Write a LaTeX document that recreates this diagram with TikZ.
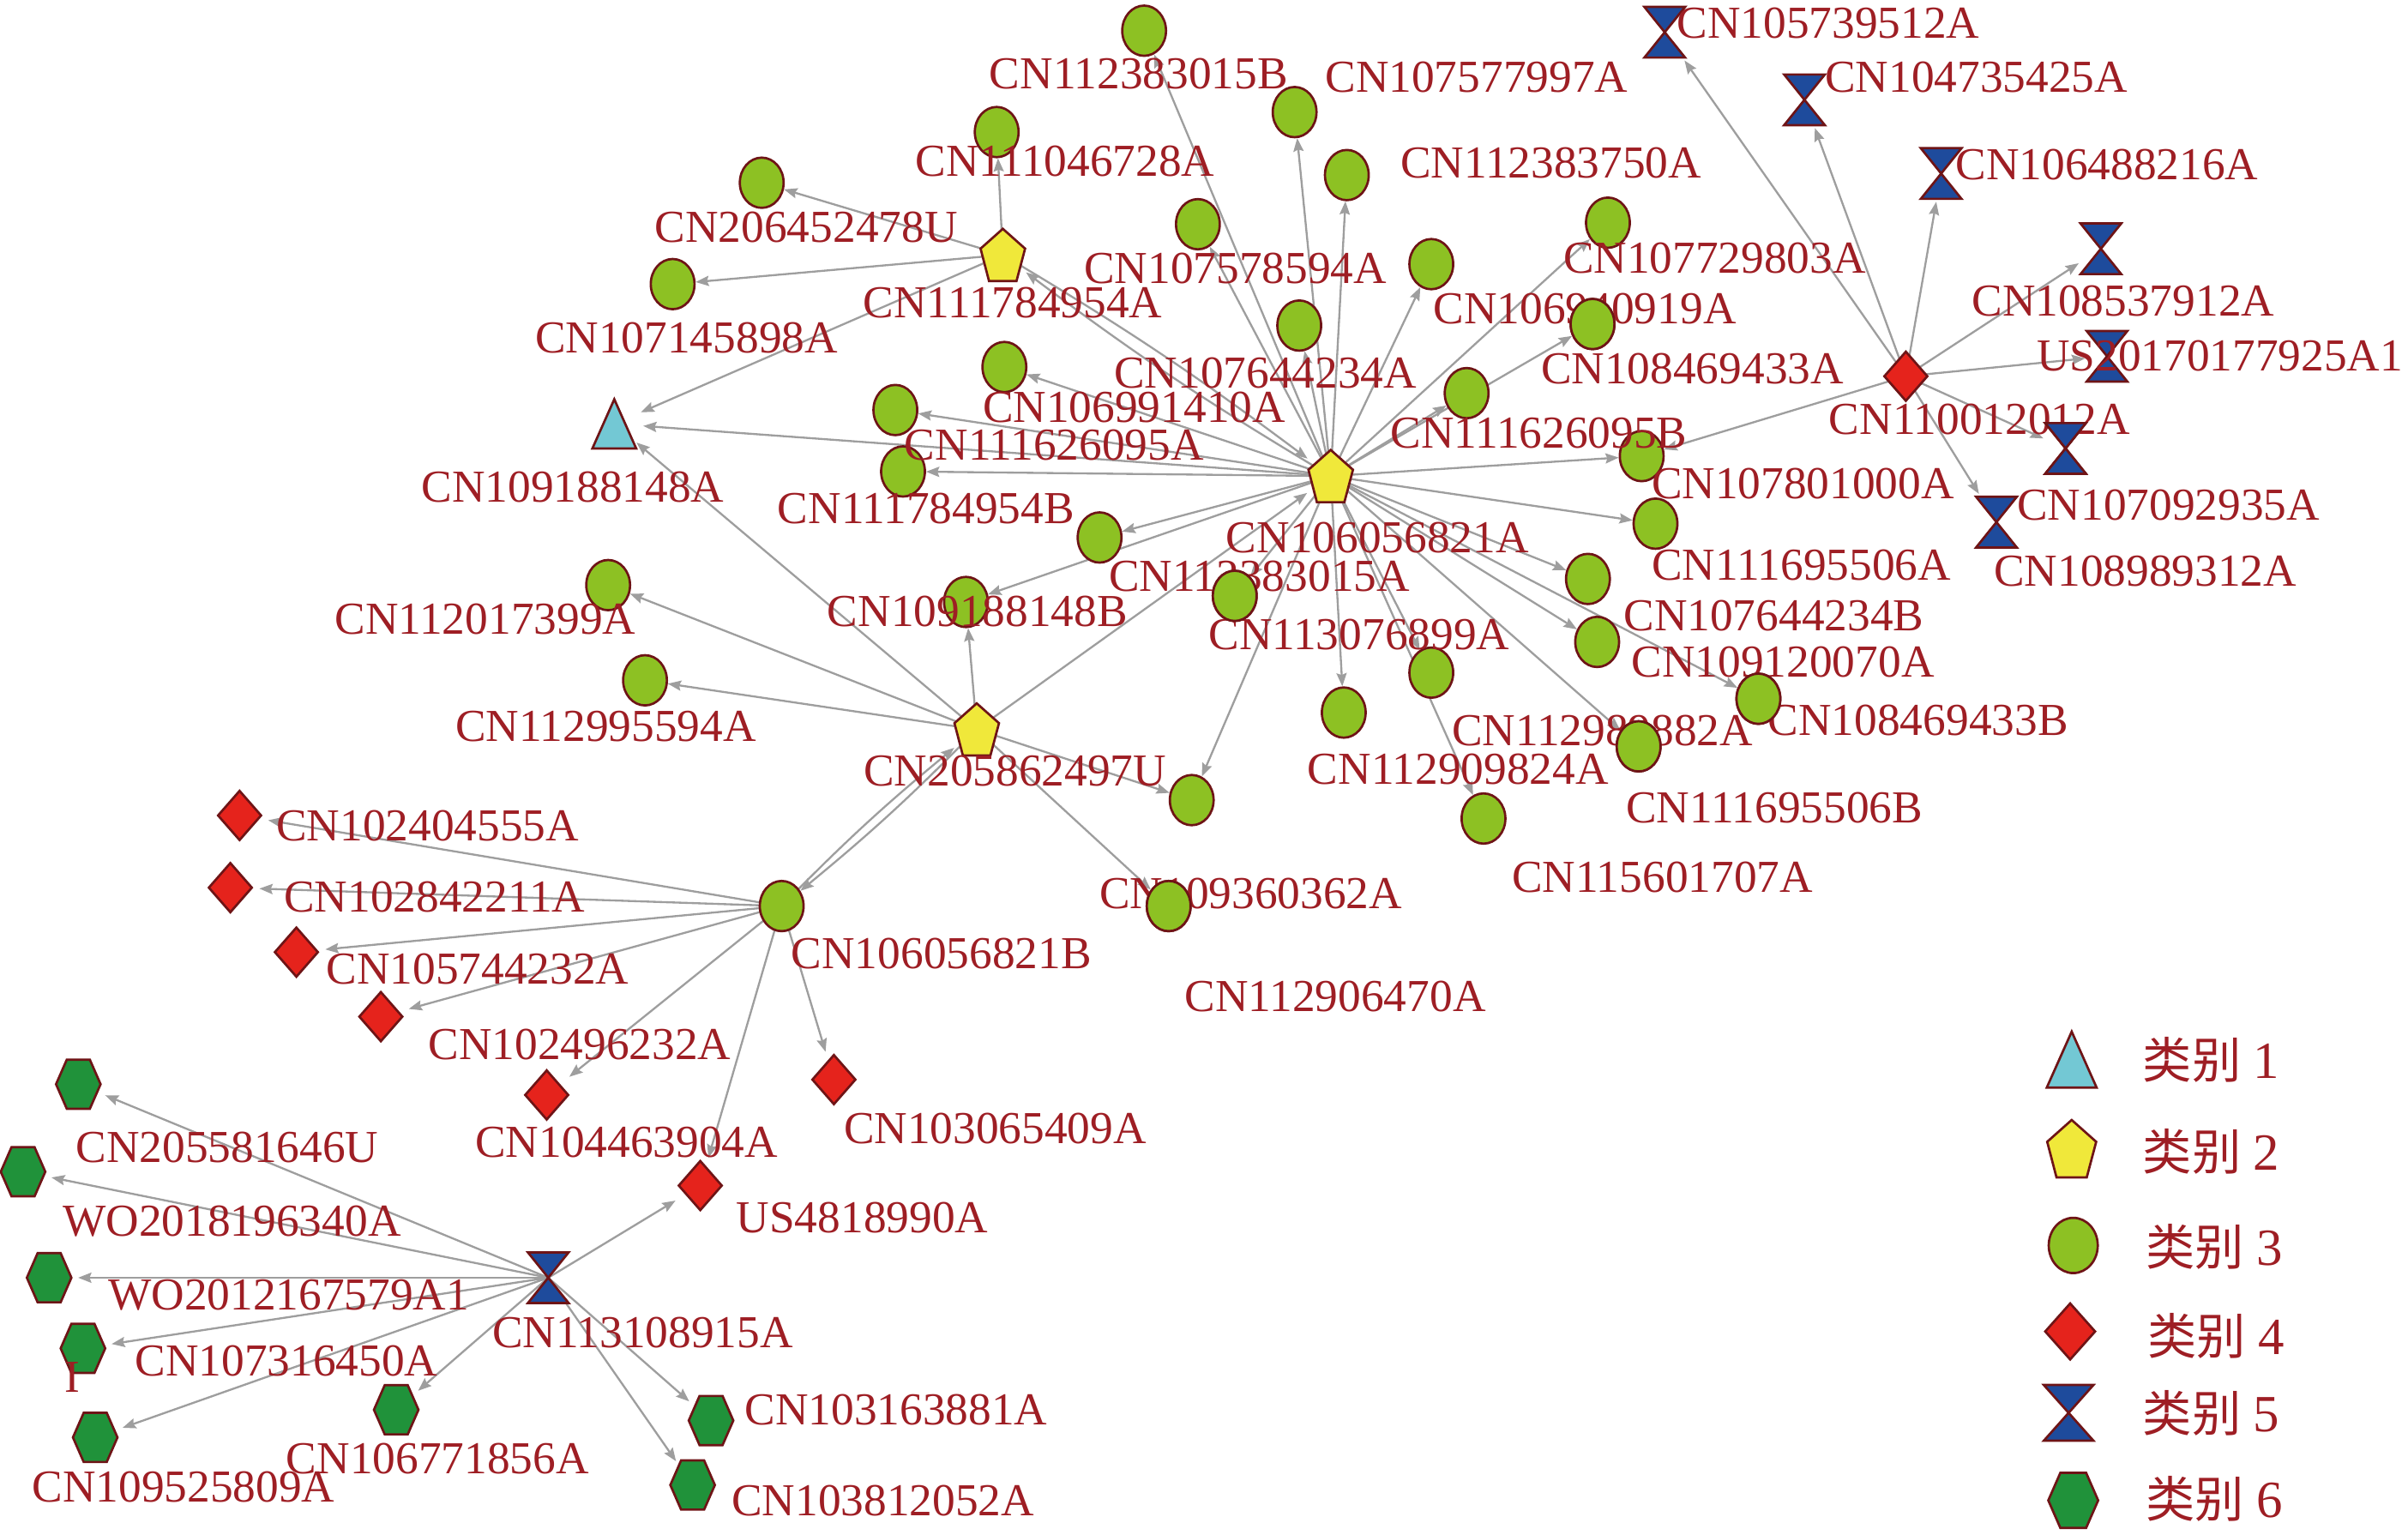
\documentclass[tikz,border=0pt]{standalone}
\usepackage{fontspec}
\setmainfont{Liberation Serif}
\newfontfamily\cjkfont{Noto Sans CJK SC}
\usetikzlibrary{shapes.geometric,arrows.meta,backgrounds}
\definecolor{labred}{RGB}{158,30,36}
\definecolor{outl}{RGB}{110,20,22}
\definecolor{cgreen}{RGB}{141,193,35}
\definecolor{cyel}{RGB}{240,232,58}
\definecolor{ccyan}{RGB}{115,200,212}
\definecolor{cred}{RGB}{229,35,28}
\definecolor{cblue}{RGB}{30,75,156}
\definecolor{cdgreen}{RGB}{32,146,58}
\definecolor{edgegray}{RGB}{158,158,158}
\tikzset{
  nodeline/.style={draw=outl, line width=0.75pt, line join=miter},
  gnode/.style={ellipse, nodeline, fill=cgreen, inner sep=0pt, minimum width=14.25pt, minimum height=16.35pt},
  anc/.style={circle, inner sep=0pt, minimum size=18.5pt},
  ancb/.style={rectangle, inner sep=0pt, minimum width=14pt, minimum height=18pt},
  edge/.style={draw=edgegray, line width=0.65pt, -{Stealth[length=4.3pt,width=3.3pt,inset=0.6pt]}},
  lab/.style={inner sep=0pt, text=labred, font=\fontsize{14.9pt}{16pt}\selectfont},
  legtext/.style={inner sep=0pt, anchor=base west, text=labred},
  pics/pentsh/.style={code={\path[nodeline,fill=cyel] (0,-17) -- (14.5,-4.1) -- (8.9,17) -- (-9,17) -- (-14.5,-4.1) -- cycle;}},
  pics/trish/.style={code={\path[nodeline,fill=ccyan] (0,-16) -- (14.25,16) -- (-14.25,16) -- cycle;}},
  pics/diash/.style={code={\path[nodeline,fill=cred] (0,-16) -- (14,0) -- (0,16) -- (-14,0) -- cycle;}},
  pics/hexsh/.style={code={\path[nodeline,fill=cdgreen] (-14.5,0) -- (-7.5,-16) -- (7.5,-16) -- (14.5,0) -- (7.5,16) -- (-7.5,16) -- cycle;}},
  pics/bowsh/.style={code={\path[nodeline,fill=cblue] (-13.25,-16.5) -- (13.25,-16.5) -- (0,0) -- (13.25,16.5) -- (-13.25,16.5) -- (0,0) -- cycle;}},
  pics/ellsh/.style={code={\path[nodeline,fill=cgreen] (0,0) ellipse [x radius=14.25, y radius=16.35];}},
}
\newcommand\GNode[3]{\node[gnode] (#1) at (#2,#3) {};}
\newcommand\PNode[3]{\node[anc] (#1) at (#2,#3) {}; \pic at (#2,#3) {pentsh};}
\newcommand\TNode[3]{\node[anc] (#1) at (#2,#3) {}; \pic at (#2,#3) {trish};}
\newcommand\DNode[3]{\node[anc] (#1) at (#2,#3) {}; \pic at (#2,#3) {diash};}
\newcommand\HNode[3]{\node[anc] (#1) at (#2,#3) {}; \pic at (#2,#3) {hexsh};}
\newcommand\BNode[3]{\node[ancb] (#1) at (#2,#3) {}; \pic at (#2,#3) {bowsh};}
\newcommand\Lbl[4]{\node[lab] (#1) at (#2,#3) {#4};}
\begin{document}
\begin{tikzpicture}[x=0.5pt,y=-0.5pt]
\useasboundingbox (0,0) rectangle (1568,999.5);
% ---------- green circles ----------
\GNode{c1}{745}{20}
\GNode{c2}{649}{86}
\GNode{c3}{843}{73}
\GNode{c4}{496}{119}
\GNode{c5}{877}{114}
\GNode{c6}{780}{146}
\GNode{c7}{1047}{145}
\GNode{c8}{438}{185}
\GNode{c9}{932}{172}
\GNode{c10}{846}{212}
\GNode{c11}{1037}{211}
\GNode{c12}{654}{239}
\GNode{c13}{955}{256}
\GNode{c14}{583}{267}
\GNode{c15}{588}{307}
\GNode{c16}{1069}{297}
\GNode{c17}{1078}{341}
\GNode{c18}{716}{350}
\GNode{c19}{804}{388}
\GNode{c20}{1034}{377}
\GNode{c21}{629}{392}
\GNode{c22}{396}{381}
\GNode{c23}{1040}{418}
\GNode{c24}{932}{438}
\GNode{c25}{420}{443}
\GNode{c26}{875}{464}
\GNode{c27}{1145}{455}
\GNode{c28}{1067}{486}
\GNode{c29}{776}{521}
\GNode{c30}{966}{533}
\GNode{c31}{761}{590}
\GNode{hubB}{509}{590}
% ---------- pentagons, triangle ----------
\PNode{pA}{866.5}{310}
\PNode{pB}{653}{166}
\PNode{pC}{636}{475}
\TNode{t1}{400}{276}
% ---------- diamonds ----------
\DNode{dH}{1241}{245}
\DNode{d1}{156}{531}
\DNode{d2}{150}{578}
\DNode{d3}{193}{620}
\DNode{d4}{248}{662}
\DNode{d5}{356}{713}
\DNode{d6}{543}{703}
\DNode{d7}{456}{772}
% ---------- bowties ----------
\BNode{b1}{1084}{21}
\BNode{b2}{1175}{65}
\BNode{b3}{1264}{113}
\BNode{b4}{1368}{162}
\BNode{b5}{1372}{232}
\BNode{b6}{1345}{292}
\BNode{b7}{1300}{340}
\BNode{bH}{357}{832}
% ---------- hexagons ----------
\HNode{h1}{51}{706}
\HNode{h2}{15}{763}
\HNode{h3}{32}{832}
\HNode{h4}{54}{878}
\HNode{h5}{258}{918}
\HNode{h6}{62}{936}
\HNode{h7}{463}{925}
\HNode{h8}{451}{967}
% ---------- edges ----------
\begin{scope}[on background layer]
\foreach \t in {c1,c3,c5,c6,c10,c9,c7,c11,c13,c16,c17,c20,c23,c27,c28,c24,c30,c26,c29,c19,c21,c18,c15,c14,c12,t1}
  \draw[edge] (pA.center) -- (\t);
\draw[edge] (pA.center) to[bend left=3] (pB);
\draw[edge] (pB.center) to[bend left=3] (pA);
\foreach \t in {c2,c4,c8,t1}
  \draw[edge] (pB.center) -- (\t);
\foreach \t in {pA,t1,c22,c25,c21,c29,c31}
  \draw[edge] (pC.center) -- (\t);
\draw[edge] (pC.center) to[bend left=3] (hubB);
\draw[edge] (hubB.center) to[bend left=3] (pC);
\foreach \t in {d1,d2,d3,d4,d5,d6,d7}
  \draw[edge] (hubB.center) -- (\t);
\foreach \t in {h1,h2,h3,h4,h5,h6,h7,h8,d7}
  \draw[edge] (bH.center) -- (\t);
\foreach \t in {b1,b2,b3,b4,b5,b6,b7,c16}
  \draw[edge] (dH.center) -- (\t);
\end{scope}
% ---------- labels ----------
\Lbl{l1}{741.5}{48}{CN112383015B}
\Lbl{l2}{961.5}{50}{CN107577997A}
\Lbl{l3}{1190.5}{15}{CN105739512A}
\Lbl{l4}{1287}{50}{CN104735425A}
\Lbl{l5}{693.5}{105}{CN111046728A}
\Lbl{l6}{1010}{106}{CN112383750A}
\Lbl{l7}{1372}{107}{CN106488216A}
\Lbl{l8}{525}{148}{CN206452478U}
\Lbl{l9}{1116.5}{168}{CN107729803A}
\Lbl{l10}{804.5}{175}{CN107578594A}
\Lbl{l11}{1382.5}{196}{CN108537912A}
\Lbl{l12}{659.5}{197}{CN111784954A}
\Lbl{l13}{1032}{201}{CN106940919A}
\Lbl{l14}{447}{220}{CN107145898A}
\Lbl{l15}{1445.5}{232}{US20170177925A1}
\Lbl{l16}{1102}{240}{CN108469433A}
\Lbl{l17}{824}{243}{CN107644234A}
\Lbl{l18}{738.5}{265}{CN106991410A}
\Lbl{l19}{1289}{273}{CN110012012A}
\Lbl{l20}{1002}{282}{CN111626095B}
\Lbl{l21}{686.5}{290}{CN111626095A}
\Lbl{l22}{1174}{315}{CN107801000A}
\Lbl{l23}{373}{317}{CN109188148A}
\Lbl{l24}{1412}{329}{CN107092935A}
\Lbl{l25}{603}{331}{CN111784954B}
\Lbl{l26}{897}{350}{CN106056821A}
\Lbl{l27}{1173}{368}{CN111695506A}
\Lbl{l28}{1397}{372}{CN108989312A}
\Lbl{l29}{820}{375}{CN112383015A}
\Lbl{l30}{636.5}{398}{CN109188148B}
\Lbl{l31}{1155}{401}{CN107644234B}
\Lbl{l32}{316}{403}{CN112017399A}
\Lbl{l33}{885}{413}{CN113076899A}
\Lbl{l34}{1161}{431}{CN109120070A}
\Lbl{l35}{1249}{469}{CN108469433B}
\Lbl{l36}{394.5}{473}{CN112995594A}
\Lbl{l37}{1043.5}{476}{CN112989882A}
\Lbl{l38}{949.5}{501}{CN112909824A}
\Lbl{l39}{661}{502}{CN205862497U}
\Lbl{l40}{1155.5}{526}{CN111695506B}
\Lbl{l41}{278.5}{538}{CN102404555A}
\Lbl{l42}{1082.5}{571}{CN115601707A}
\Lbl{l43}{814.5}{582}{CN109360362A}
\Lbl{l44}{283}{584}{CN102842211A}
\Lbl{l45}{613}{621}{CN106056821B}
\Lbl{l46}{311}{631}{CN105744232A}
\Lbl{l47}{869.5}{649}{CN112906470A}
\Lbl{l48}{377.5}{680}{CN102496232A}
\Lbl{l49}{648}{735}{CN103065409A}
\Lbl{l50}{408}{744}{CN104463904A}
\Lbl{l51}{148}{747}{CN205581646U}
\Lbl{l52}{561.5}{793}{US4818990A}
\Lbl{l53}{151}{795}{WO2018196340A}
\Lbl{l54}{188}{843}{WO2012167579A1}
\Lbl{l55}{418.5}{868}{CN113108915A}
\Lbl{l56}{186.5}{886}{CN107316450A}
\Lbl{l57}{47}{897}{I}
\Lbl{l58}{583.5}{918}{CN103163881A}
\Lbl{l59}{285}{950}{CN106771856A}
\Lbl{l60}{119.5}{968}{CN109525809A}
\Lbl{l61}{575}{977}{CN103812052A}
% ---------- nodes that cover their neighbours' labels ----------
\pic at (1037,211) {ellsh};
\pic at (804,388) {ellsh};
\pic at (1145,455) {ellsh};
\pic at (1067,486) {ellsh};
\pic at (761,590) {ellsh};
\pic at (1345,292) {bowsh};
% ---------- legend ----------
\pic[scale=1.14] at (1349,690) {trish};
\pic[scale=1.1] at (1349,748) {pentsh};
\pic[xscale=1.12,yscale=1.1] at (1350,811) {ellsh};
\pic[xscale=1.16,yscale=1.14] at (1348,867) {diash};
\pic[xscale=1.22,yscale=1.1] at (1347,920) {bowsh};
\pic[xscale=1.12,yscale=1.12] at (1350,977) {hexsh};
\node[legtext] (g1) at (1395,702) {\fontsize{16pt}{16pt}\cjkfont 类别\hspace{4pt}\fontsize{17pt}{17pt}\rmfamily 1};
\node[legtext] (g2) at (1395,762) {\fontsize{16pt}{16pt}\cjkfont 类别\hspace{4pt}\fontsize{17pt}{17pt}\rmfamily 2};
\node[legtext] (g3) at (1397,824) {\fontsize{16pt}{16pt}\cjkfont 类别\hspace{4pt}\fontsize{17pt}{17pt}\rmfamily 3};
\node[legtext] (g4) at (1398,882) {\fontsize{16pt}{16pt}\cjkfont 类别\hspace{4pt}\fontsize{17pt}{17pt}\rmfamily 4};
\node[legtext] (g5) at (1395,932) {\fontsize{16pt}{16pt}\cjkfont 类别\hspace{4pt}\fontsize{17pt}{17pt}\rmfamily 5};
\node[legtext] (g6) at (1397,988) {\fontsize{16pt}{16pt}\cjkfont 类别\hspace{4pt}\fontsize{17pt}{17pt}\rmfamily 6};
\end{tikzpicture}
\end{document}
